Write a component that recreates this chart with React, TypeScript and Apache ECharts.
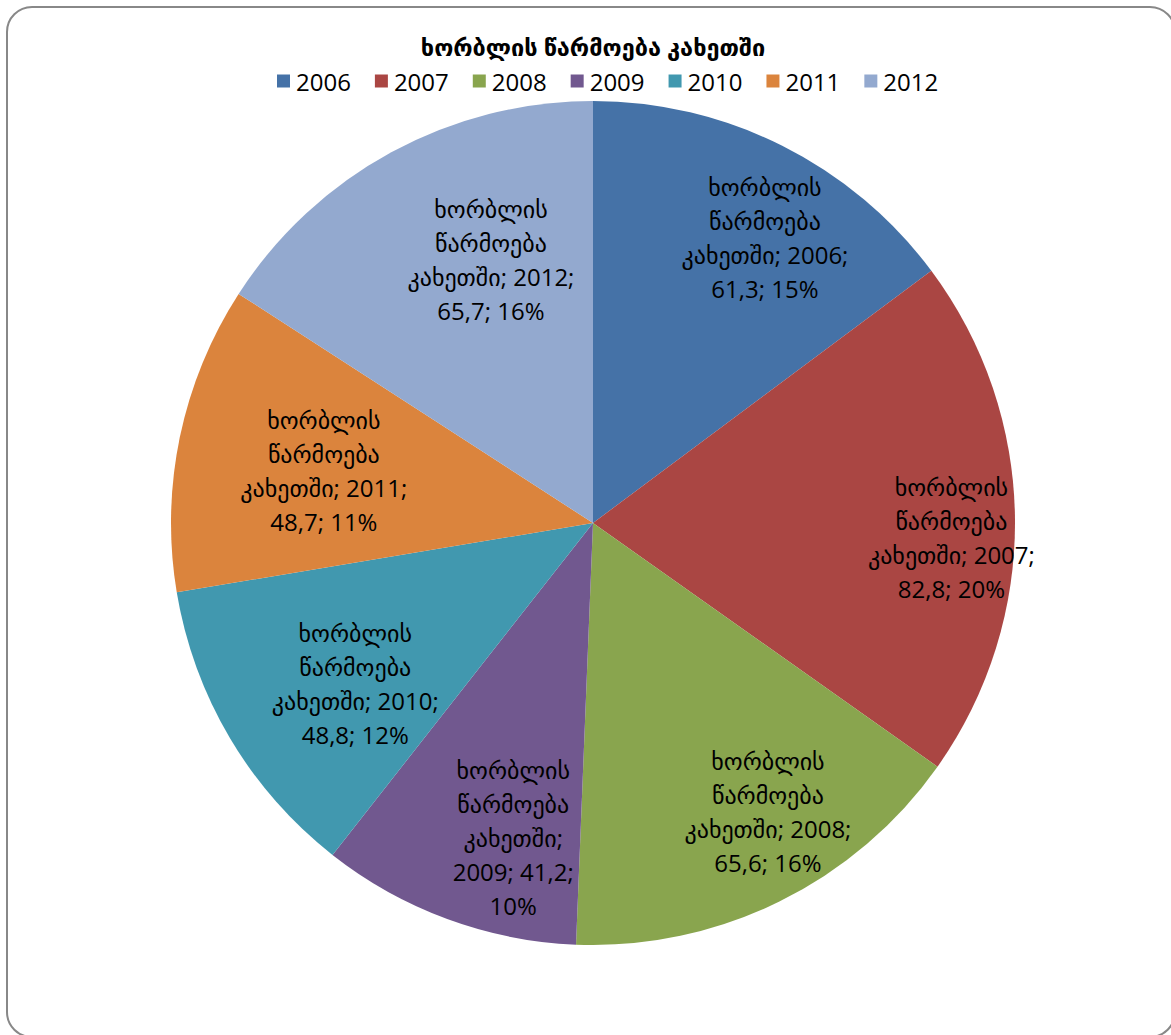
import React, { useEffect, useRef } from "react";
import * as echarts from "echarts";

const TITLE = "ხორბლის წარმოება კახეთში";
const SERIES_NAME = "ხორბლის წარმოება კახეთში";
const YEARS = ["2006", "2007", "2008", "2009", "2010", "2011", "2012"];
const VALUES = [61.3, 82.8, 65.6, 41.2, 48.8, 48.7, 65.7];
const PERCENTS = [15, 20, 16, 10, 12, 11, 16];
const COLORS = ["#4572A7", "#AA4643", "#89A54E", "#71588F", "#4198AF", "#DB843D", "#93A9CF"];

// label placement tweaks (Excel best-fit imitation)
const LABEL_RADIUS = [0.79, 0.85, 0.8, 0.77, 0.68, 0.65, 0.67];
const LABEL_ANGLE_SHIFT = [4.4, 3.1, -5, -6, -3.4, -0.6, 7.4];
const NARROW_LABEL = [false, false, false, true, false, false, false];

const CX = 593;
const CY = 523;
const R = 422;

const FONT = "'Open Sans', 'DejaVu Sans', sans-serif";

export default function App() {
  const ref = useRef<HTMLDivElement>(null);
  useEffect(() => {
    if (!ref.current) return;
    const chart = echarts.init(ref.current, undefined, { renderer: "svg" });
    const total = VALUES.reduce((a, b) => a + b, 0);
    const mids: number[] = [];
    let acc = 0;
    VALUES.forEach((v) => {
      const a = (v / total) * 360;
      mids.push(acc + a / 2);
      acc += a;
    });
    const fmt = (v: number) => v.toFixed(1).replace(".", ",");
    chart.setOption({
      animation: false,
      color: COLORS,
      graphic: [
        {
          type: "rect",
          shape: { x: 7, y: 7, width: 1168, height: 1030, r: 25 },
          style: { fill: "#fff", stroke: "#888", lineWidth: 2 },
          z: -10,
        },
        {
          type: "text",
          x: 593,
          y: 47,
          style: {
            text: TITLE,
            font: `bold 23.5px ${FONT}`,
            fill: "#000",
            align: "center",
            verticalAlign: "middle",
          },
        },
      ],
      legend: {
        data: YEARS,
        left: 272,
        top: 64,
        icon: "rect",
        itemWidth: 13,
        itemHeight: 13,
        itemGap: 24,
        textStyle: { fontSize: 24, fontFamily: FONT, color: "#000", padding: [0, 0, 0, 1] },
      },
      series: [
        {
          type: "pie",
          name: SERIES_NAME,
          center: [CX, CY],
          radius: [0, R],
          startAngle: 90,
          clockwise: true,
          avoidLabelOverlap: false,
          itemStyle: { borderWidth: 0 },
          label: {
            show: true,
            position: "inside",
            color: "#000",
            fontSize: 24,
            fontFamily: FONT,
            lineHeight: 34,
            align: "center",
            formatter: (p: any) => {
              const i = p.dataIndex;
              if (NARROW_LABEL[i]) {
                return `ხორბლის\nწარმოება\nკახეთში;\n${YEARS[i]}; ${fmt(VALUES[i])};\n${PERCENTS[i]}%`;
              }
              return `ხორბლის\nწარმოება\nკახეთში; ${YEARS[i]};\n${fmt(VALUES[i])}; ${PERCENTS[i]}%`;
            },
          },
          labelLine: { show: false },
          labelLayout: (p: any) => {
            const i = p.dataIndex;
            const ang = ((mids[i] + LABEL_ANGLE_SHIFT[i]) * Math.PI) / 180;
            const rr = LABEL_RADIUS[i] * R;
            return {
              x: CX + rr * Math.sin(ang),
              y: CY - rr * Math.cos(ang),
              align: "center",
              verticalAlign: "middle",
            };
          },
          data: YEARS.map((y, i) => ({ name: y, value: VALUES[i] })),
        },
      ],
    });
    return () => chart.dispose();
  }, []);
  return (
    <div
      ref={ref}
      style={{ position: "absolute", left: 0, top: 0, width: 1171, height: 1035 }}
    />
  );
}
